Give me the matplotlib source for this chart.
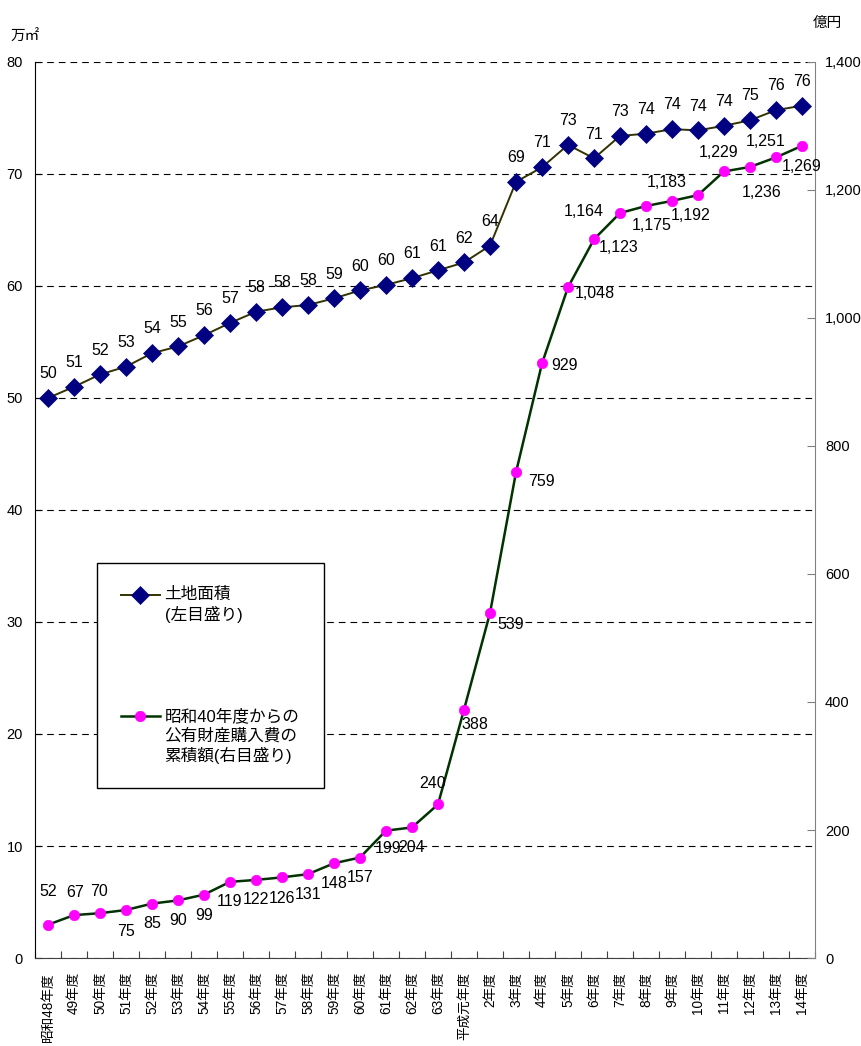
import matplotlib
matplotlib.use("Agg")
import matplotlib.pyplot as plt
from matplotlib.ticker import FixedLocator, FuncFormatter, NullFormatter
import numpy as np

plt.rcParams['font.family'] = ['Liberation Sans Narrow', 'Liberation Sans', 'Noto Sans CJK JP']

# Fiscal years (Showa 48 - Heisei 14)
years = ['昭和48年度', '49年度', '50年度', '51年度', '52年度', '53年度', '54年度',
         '55年度', '56年度', '57年度', '58年度', '59年度', '60年度', '61年度',
         '62年度', '63年度', '平成元年度', '2年度', '3年度', '4年度', '5年度',
         '6年度', '7年度', '8年度', '9年度', '10年度', '11年度', '12年度',
         '13年度', '14年度']

# Land area (10,000 m2), left scale
land_area = [50.0, 51.0, 52.1, 52.8, 54.0, 54.6, 55.6, 56.7, 57.7, 58.1,
             58.3, 58.9, 59.6, 60.1, 60.7, 61.4, 62.1, 63.6, 69.3, 70.6,
             72.6, 71.4, 73.4, 73.6, 74.0, 73.9, 74.3, 74.8, 75.7, 76.1]

# Cumulative public property purchases since Showa 40 (100 million yen), right scale
purchase_total = [52, 67, 70, 75, 85, 90, 99, 119, 122, 126, 131, 148, 157, 199,
                  204, 240, 388, 539, 759, 929, 1048, 1123, 1164, 1175, 1183,
                  1192, 1229, 1236, 1251, 1269]

# label placement for the purchase series (dx, dy in pixels, dy downward)
purchase_label_shift = [(0, -33), (1, -23), (-1, -22), (0, 21), (0, 20), (0, 20),
                        (0, 21), (0, 20), (0, 20), (0, 21), (0, 20), (0, 20),
                        (0, 20), (2, 18), (0, 20), (-5, -21), (11, 15), (21, 11),
                        (25, 9), (23, 2), (27, 6), (25, 8), (-36, -2), (6, 20),
                        (-5, -18), (-7, 20), (-5, -19), (12, 26), (-10, -16), (0, 21)]

W, H = 861, 1046
fig = plt.figure(figsize=(W / 100, H / 100), dpi=100)
ax = fig.add_axes([35 / W, 1 - 958 / H, 780 / W, 896 / H])
ax2 = ax.twinx()

x = np.arange(len(years))
ax.set_xlim(-0.5, len(years) - 0.5)
ax.set_ylim(0, 80)
ax2.set_ylim(0, 1400)

# series
l1, = ax.plot(x, land_area, color='#333300', lw=1.4, marker='D', ms=9.5,
              mfc='#000080', mec='#000080', mew=0.5, zorder=4,
              label='土地面積\n(左目盛り)')
l2, = ax2.plot(x, purchase_total, color='#003300', lw=1.8, marker='o', ms=7.5,
               mfc='#FF00FF', mec='#FF00FF', mew=0.5, zorder=4,
               label='昭和40年度からの\n公有財産購入費の\n累積額(右目盛り)')

# value labels
for xi, v in zip(x, land_area):
    ax.annotate(f'{v:.0f}', (xi, v), xytext=(0, 17.5), textcoords='offset points',
                ha='center', va='center', fontsize=11.5, color='black', zorder=5)
for xi, v, (dx, dy) in zip(x, purchase_total, purchase_label_shift):
    ax2.annotate(f'{v:,}', (xi, v), xytext=(dx * 0.72, -dy * 0.72),
                 textcoords='offset points', ha='center', va='center',
                 fontsize=11.5, color='black', zorder=5)

# left axis
ax.set_yticks(np.arange(0, 81, 10))
ax.yaxis.grid(True, color='black', linestyle=(0, (6, 4.5)), lw=0.8)
ax.set_axisbelow(True)
ax.tick_params(axis='y', direction='in', length=5, labelsize=10.5, pad=8.6,
               colors='black')

# right axis
ax2.set_yticks(np.arange(0, 1401, 200))
ax2.yaxis.set_major_formatter(FuncFormatter(lambda v, p: f'{v:,.0f}'))
ax2.tick_params(axis='y', direction='in', length=6, labelsize=10.5, pad=7.2,
                color='#808080', labelcolor='black')

# category axis: boundary ticks, centered labels
ax.xaxis.set_major_locator(FixedLocator(np.arange(-0.5, len(years), 1.0)))
ax.xaxis.set_major_formatter(NullFormatter())
ax.xaxis.set_minor_locator(FixedLocator(x))
ax.set_xticklabels(years, minor=True, rotation=90, fontsize=9.8)
ax.tick_params(axis='x', which='major', direction='in', length=5, color='#404040')
ax.tick_params(axis='x', which='minor', length=0, pad=10)

for a in (ax, ax2):
    a.spines['top'].set_visible(False)
ax.spines['left'].set_color('black')
ax2.spines['left'].set_visible(False)
ax2.spines['right'].set_color('#808080')
ax.spines['right'].set_visible(False)
ax.spines['bottom'].set_color('#404040')
ax2.spines['bottom'].set_visible(False)

# unit captions
fig.text(25 / W, 1 - 37 / H, '万㎡', ha='center', va='center', fontsize=10.5,
         family=['Noto Sans CJK JP'])
fig.text(827 / W, 1 - 23 / H, '億円', ha='center', va='center', fontsize=10.5,
         family=['Noto Sans CJK JP'])

# legend
leg = ax2.legend(handles=[l1, l2], loc='upper left',
                 bbox_to_anchor=((97 - 35) / 780, 1 - (563 - 62) / 896),
                 bbox_transform=ax.transAxes, borderaxespad=0,
                 frameon=True, fancybox=False, framealpha=1, edgecolor='black',
                 borderpad=1.45, labelspacing=5.1, handlelength=2.3,
                 handletextpad=0.3, handleheight=1.4,
                 prop=dict(size=12, family=['Liberation Sans', 'Noto Sans CJK JP']))
leg.get_frame().set_linewidth(1.0)
for column in leg._legend_handle_box.get_children():
    for row in column.get_children():
        row.align = 'top'
for t in leg.get_texts():
    t.set_linespacing(1.28)

fig.savefig('out.png', dpi=100, facecolor='white')
